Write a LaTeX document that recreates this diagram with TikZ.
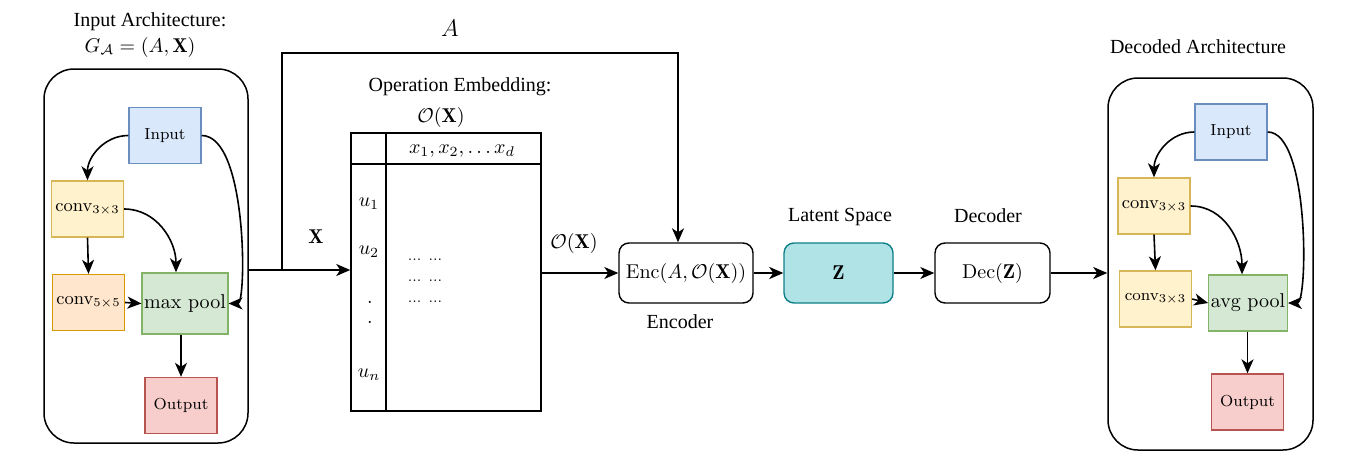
\documentclass[tikz,border=0pt]{standalone}
\usepackage{fontspec}
\usepackage{amsmath}
\usetikzlibrary{arrows.meta}
\newfontfamily\titlefont{Liberation Serif}
\definecolor{inblue}{HTML}{DAE8FC}
\definecolor{inblueline}{HTML}{6C8EBF}
\definecolor{cyellow}{HTML}{FFF2CC}
\definecolor{cyellowline}{HTML}{D6B656}
\definecolor{corange}{HTML}{FFE6CC}
\definecolor{corangeline}{HTML}{D79B00}
\definecolor{pgreen}{HTML}{D5E8D4}
\definecolor{pgreenline}{HTML}{82B366}
\definecolor{ored}{HTML}{F8CECC}
\definecolor{oredline}{HTML}{B85450}
\definecolor{zfill}{HTML}{B0E3E6}
\definecolor{zline}{HTML}{0E8088}

\begin{document}
\begin{tikzpicture}[x=0.5pt,y=-0.5pt,
	box/.style={draw, line width=0.7pt, minimum width=36pt, minimum height=28pt, inner sep=1pt, font=\footnotesize},
	inbox/.style={box, draw=inblueline, fill=inblue},
	c3box/.style={box, draw=cyellowline, fill=cyellow, font=\small},
	c5box/.style={box, draw=corangeline, fill=corange, font=\small},
	poolbox/.style={box, draw=pgreenline, fill=pgreen, font=\normalsize},
	outbox/.style={box, draw=oredline, fill=ored},
	arch/.style={draw, line width=0.75pt, rounded corners=15pt, minimum width=102pt, minimum height=187pt},
	blk/.style={draw, line width=0.7pt, rounded corners=5pt, minimum height=30pt, inner sep=1pt},
	arr/.style={-{Stealth[length=7pt,width=6pt,inset=2pt]}, line width=0.8pt},
	ttl/.style={font=\titlefont}]
		\useasboundingbox (0,0) rectangle (1352,455);
		% architecture frames
		\node[arch] (inarch) at (146,256) {};
		\node[arch, minimum width=102.5pt, minimum height=186pt] (decarch) at (1210.5,264) {};
		% input architecture
		\node[inbox] (in1) at (165,135.5) {Input};
		\node[c3box] (c3a) at (87.5,209) {conv$_{3\times3}$};
		\node[c5box] (c5a) at (88.5,302.5) {conv$_{5\times5}$};
		\node[poolbox, minimum width=41pt, minimum height=30.5pt] (mp) at (185,303.5) {max pool};
		\node[outbox] (out1) at (181,405.5) {Output};
		\draw[arr] (in1.west) to[out=180,in=90] (c3a.north);
		\draw[arr] (in1.east) .. controls +(46,0) and +(18,0) .. (mp.east);
		\draw[arr] (c3a.east) to[out=0,in=90] ([xshift=-4.5pt]mp.north);
		\draw[arr] (c3a.south) -- (c5a.north);
		\draw[arr] (c5a.east) -- (mp.west);
		\draw[arr] (out1.north |- mp.south) -- (out1.north);
		% operation embedding table
		\node[draw, line width=0.75pt, minimum width=95pt, minimum height=139pt, inner sep=0pt] (emb) at (446,272) {};
		\draw[line width=0.75pt] (351,164) -- (541,164);
		\draw[line width=0.75pt] (386,133) -- (386,411);
		\node (hdr) at (462,151) {$x_1, x_2, \dots x_d$};
		\node (u1) at (369,204) {$u_1$};
		\node (u2) at (369,252) {$u_2$};
		\node (ud1) at (370,302) {.};
		\node (ud2) at (370,322) {.};
		\node (un) at (369,375) {$u_n$};
		\node[font=\scriptsize] (dots1) at (425,260) {... ...};
		\node[font=\scriptsize] (dots2) at (425,281) {... ...};
		\node[font=\scriptsize] (dots3) at (425,302) {... ...};
		% encoder, latent space, decoder
		\node[blk, minimum width=67pt] (enc) at (686,273) {Enc$(A,\mathcal{O}(\mathbf{X}))$};
		\node[blk, minimum width=54.5pt, draw=zline, fill=zfill] (lat) at (838.5,273) {$\mathbf{Z}$};
		\node[blk, minimum width=57.5pt] (dec) at (992.5,273) {Dec$(\mathbf{Z})$};
		\coordinate (split) at (282,270);
		\coordinate (ahigh) at (450,53);
		\draw[arr] (inarch.east |- split) -- (emb.west |- split);
		\draw[arr] (split) |- (ahigh) -| ([xshift=-4pt]enc.north);
		\draw[arr] (emb.east |- enc.west) -- (enc.west);
		\draw[arr, line width=1.3pt] (enc.east) -- (lat.west);
		\draw[arr] (lat.east) -- (dec.west);
		\draw[arr] (dec.east) -- (dec.east -| decarch.west);
		% decoded architecture
		\node[inbox] (in2) at (1231,132) {Input};
		\node[c3box] (c3b) at (1154,206) {conv$_{3\times3}$};
		\node[c3box, font=\footnotesize] (c3c) at (1155.5,299) {conv$_{3\times3}$};
		\node[poolbox, minimum width=38pt] (ap) at (1248,303) {avg pool};
		\node[outbox] (out2) at (1247.5,402) {Output};
		\draw[arr] (in2.west) to[out=180,in=90] (c3b.north);
		\draw[arr] (in2.east) .. controls +(42,0) and +(20,0) .. (ap.east);
		\draw[arr] (c3b.east) to[out=0,in=90] ([xshift=-3pt]ap.north);
		\draw[arr] (c3b.south) -- (c3c.north);
		\draw[arr] (c3c.east) -- (ap.west);
		\draw[arr] (out2.north |- ap.south) -- (out2.north);
		% labels
		\node[ttl] (inttl) at (150,22) {Input Architecture:};
		\node (ingraph) at (140,47) {$G_{\mathcal{A}} = (A, \mathbf{X})$};
		\node[ttl] (embttl) at (460,87) {Operation Embedding:};
		\node (embsym) at (441,117) {$\mathcal{O}(\mathbf{X})$};
		\node[font=\large] (lblA) at (450,28) {$A$};
		\node (lblX) at (316,237) {$\mathbf{X}$};
		\node (lblO) at (574,243) {$\mathcal{O}(\mathbf{X})$};
		\node[ttl] (encttl) at (680,322) {Encoder};
		\node[ttl] (latttl) at (840,217) {Latent Space};
		\node[ttl] (decttl) at (988,216) {Decoder};
		\node[ttl] (decarchttl) at (1198,47) {Decoded Architecture};
	\end{tikzpicture}
\end{document}
